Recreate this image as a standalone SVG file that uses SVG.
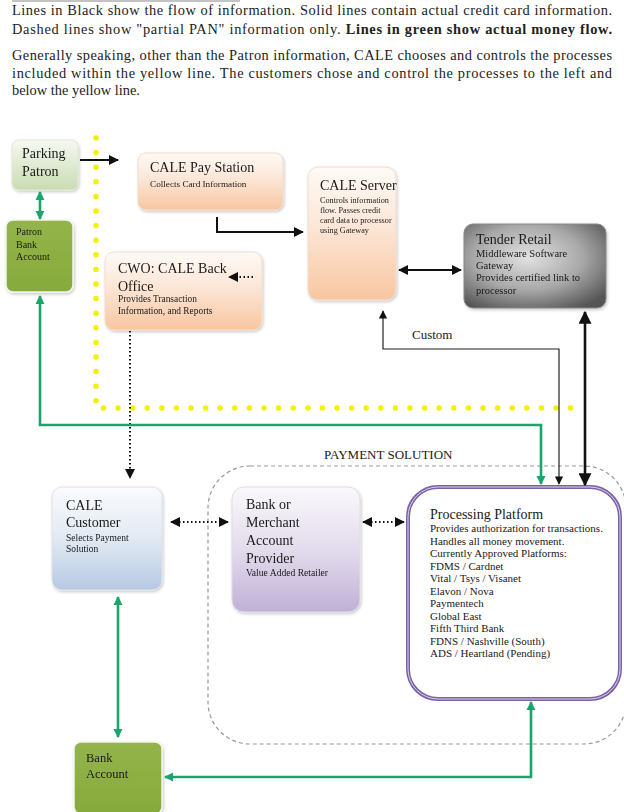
<svg xmlns="http://www.w3.org/2000/svg" width="624" height="812" viewBox="0 0 624 812">
<style>
text{font-family:"Liberation Serif","Times New Roman",serif;fill:#1a1a1a}
.p{font-size:14.4px;fill:#222}
.t{font-size:14px}
.s9{font-size:10.5px}
.pp{font-size:11px}
.blk{fill:none;stroke:#111;stroke-width:2}
.thin{fill:none;stroke:#222;stroke-width:1.2}
.dot{fill:none;stroke:#111;stroke-width:2;stroke-dasharray:1.5 2.5}
.grn{fill:none;stroke:#1aa56a;stroke-width:2.6}
.yel{fill:none;stroke:#f2f200;stroke-width:5.5;stroke-linecap:round;stroke-dasharray:0 14.6}
</style>
<defs>
<marker id="ab" viewBox="0 0 10 10" refX="9" refY="5" markerWidth="5" markerHeight="5" orient="auto-start-reverse" markerUnits="strokeWidth"><path d="M0,0L10,5L0,10z" fill="#111"/></marker>
<marker id="abt" viewBox="0 0 10 10" refX="9" refY="5" markerWidth="7" markerHeight="7" orient="auto-start-reverse" markerUnits="strokeWidth"><path d="M0,0L10,5L0,10z" fill="#111"/></marker>
<marker id="ag" viewBox="0 0 10 10" refX="9" refY="5" markerWidth="3.6" markerHeight="3.6" orient="auto-start-reverse" markerUnits="strokeWidth"><path d="M0,0L10,5L0,10z" fill="#1aa56a"/></marker>
<linearGradient id="gOr" x1="0" y1="0" x2="0" y2="1"><stop offset="0" stop-color="#fefaf6"/><stop offset="0.45" stop-color="#fce6d6"/><stop offset="1" stop-color="#f8c6a0"/></linearGradient>
<linearGradient id="gLg" x1="0" y1="0" x2="0" y2="1"><stop offset="0" stop-color="#f6f9f1"/><stop offset="1" stop-color="#c9dcb2"/></linearGradient>
<linearGradient id="gDg" x1="0" y1="0" x2="0" y2="1"><stop offset="0" stop-color="#93b44a"/><stop offset="1" stop-color="#87aa3c"/></linearGradient>
<linearGradient id="gBl" x1="0" y1="0" x2="0" y2="1"><stop offset="0" stop-color="#fafbfd"/><stop offset="0.5" stop-color="#e2e9f3"/><stop offset="1" stop-color="#b6c9e2"/></linearGradient>
<linearGradient id="gPu" x1="0" y1="0" x2="0" y2="1"><stop offset="0" stop-color="#faf8fb"/><stop offset="0.5" stop-color="#e3dcec"/><stop offset="1" stop-color="#bfb0d6"/></linearGradient>
<radialGradient id="gGr" cx="0.45" cy="0.4" r="0.7"><stop offset="0" stop-color="#e2e2e2"/><stop offset="0.55" stop-color="#a8a8a8"/><stop offset="1" stop-color="#555"/></radialGradient>
<filter id="sh" x="-10%" y="-10%" width="125%" height="125%"><feDropShadow dx="1" dy="1.5" stdDeviation="1.5" flood-color="#000" flood-opacity="0.22"/></filter>
</defs>

<line x1="12" y1="1" x2="240" y2="1" stroke="#888" stroke-width="1.2"/>
<g id="intro">
<text class="p" x="12" y="15" textLength="600" lengthAdjust="spacing">Lines in Black show the flow of information. Solid lines contain actual credit card information.</text>
<text class="p" x="12" y="34" textLength="600" lengthAdjust="spacing">Dashed lines show "partial PAN" information only. <tspan font-weight="bold">Lines in green show actual money flow.</tspan></text>
<text class="p" x="12" y="60" textLength="600" lengthAdjust="spacing">Generally speaking, other than the Patron information, CALE chooses and controls the processes</text>
<text class="p" x="12" y="78" textLength="600" lengthAdjust="spacing">included within the yellow line. The customers chose and control the processes to the left and</text>
<text class="p" x="12" y="95">below the yellow line.</text>
</g>

<g id="yellow-line">
<path class="yel" d="M96,138 V408 H578"/>
</g>

<g id="payment-solution">
<rect x="208" y="466" width="418" height="278" rx="42" fill="none" stroke="#999" stroke-width="1.2" stroke-dasharray="4 3"/>
<text x="324" y="459" font-size="13px">PAYMENT SOLUTION</text>
</g>

<g id="parking-patron" filter="url(#sh)">
<rect x="12" y="140" width="66" height="50" rx="7" fill="url(#gLg)" stroke="#dfe8d3" stroke-width="1"/>
<text class="t" x="22" y="158">Parking</text>
<text class="t" x="22" y="176">Patron</text>
</g>

<g id="patron-bank-account" filter="url(#sh)">
<rect x="6" y="220" width="67" height="72" rx="7" fill="url(#gDg)" stroke="#f2f6ea" stroke-width="1.5"/>
<text x="16" y="235" font-size="10px">Patron</text>
<text x="16" y="248" font-size="10px">Bank</text>
<text x="16" y="260" font-size="10px">Account</text>
</g>

<g id="cale-pay-station" filter="url(#sh)">
<rect x="138" y="153" width="145" height="57" rx="8" fill="url(#gOr)" stroke="#f3dccb" stroke-width="1"/>
<text class="t" x="150" y="172">CALE  Pay Station</text>
<text x="150" y="187" font-size="9.2px">Collects Card Information</text>
</g>

<g id="cale-server" filter="url(#sh)">
<rect x="308" y="167" width="88" height="133" rx="10" fill="url(#gOr)" stroke="#f3dccb" stroke-width="1"/>
<text class="t" x="320" y="190">CALE  Server</text>
<text x="320" y="203" font-size="8.2px">Controls information</text>
<text x="320" y="213" font-size="8.2px">flow. Passes credit</text>
<text x="320" y="223" font-size="8.2px">card data to processor</text>
<text x="320" y="233" font-size="8.2px">using Gateway</text>
</g>

<g id="tender-retail" filter="url(#sh)">
<rect x="464" y="224" width="142" height="84" rx="9" fill="url(#gGr)" stroke="#888" stroke-width="1"/>
<text class="t" x="476" y="244">Tender  Retail</text>
<text class="s9" x="476" y="257">Middleware Software</text>
<text class="s9" x="476" y="269">Gateway</text>
<text class="s9" x="476" y="281">Provides certified link to</text>
<text class="s9" x="476" y="294">processor</text>
</g>

<g id="cwo-back-office" filter="url(#sh)">
<rect x="105" y="252" width="157" height="78" rx="9" fill="url(#gOr)" stroke="#f3dccb" stroke-width="1"/>
<text class="t" x="118" y="273">CWO: CALE Back</text>
<text class="t" x="118" y="291">Office</text>
<text x="118" y="302" font-size="9.4px">Provides Transaction</text>
<text x="118" y="314" font-size="9.4px">Information, and Reports</text>
</g>

<g id="cale-customer" filter="url(#sh)">
<rect x="52" y="487" width="110" height="103" rx="10" fill="url(#gBl)" stroke="#dde3ec" stroke-width="1"/>
<text class="t" x="66" y="510">CALE</text>
<text class="t" x="66" y="527">Customer</text>
<text x="66" y="541" font-size="9.5px">Selects Payment</text>
<text x="66" y="552" font-size="9.5px">Solution</text>
</g>

<g id="bank-merchant" filter="url(#sh)">
<rect x="232" y="487" width="128" height="125" rx="12" fill="url(#gPu)" stroke="#e2dbe9" stroke-width="1"/>
<text class="t" x="246" y="509">Bank  or</text>
<text class="t" x="246" y="527">Merchant</text>
<text class="t" x="246" y="545">Account</text>
<text class="t" x="246" y="563">Provider</text>
<text x="246" y="576" font-size="9.6px">Value Added Retailer</text>
</g>

<g id="processing-platform">
<rect x="408" y="487" width="212" height="212" rx="30" fill="#fff" stroke="#7b62a8" stroke-width="4"/>
<rect x="408" y="487" width="212" height="212" rx="30" fill="none" stroke="#d8cfe8" stroke-width="1"/>
<text class="t" x="430" y="519">Processing  Platform</text>
<text class="pp" x="430" y="532">Provides authorization for transactions.</text>
<text class="pp" x="430" y="544.5">Handles all money movement.</text>
<text class="pp" x="430" y="557">Currently Approved Platforms:</text>
<text class="pp" x="430" y="569.5">FDMS / Cardnet</text>
<text class="pp" x="430" y="582">Vital / Tsys / Visanet</text>
<text class="pp" x="430" y="594.5">Elavon / Nova</text>
<text class="pp" x="430" y="607">Paymentech</text>
<text class="pp" x="430" y="619.5">Global East</text>
<text class="pp" x="430" y="632">Fifth Third Bank</text>
<text class="pp" x="430" y="644.5">FDNS / Nashville (South)</text>
<text class="pp" x="430" y="657">ADS / Heartland (Pending)</text>
</g>

<g id="bank-account" filter="url(#sh)">
<rect x="74" y="742" width="88" height="72" rx="7" fill="url(#gDg)" stroke="#f2f6ea" stroke-width="1.5"/>
<text x="86" y="762" font-size="12.5px">Bank</text>
<text x="86" y="778" font-size="12.5px">Account</text>
</g>

<g id="connectors">
<line class="blk" x1="80" y1="160" x2="118" y2="160" marker-end="url(#ab)"/>
<path class="blk" d="M217,217 V232 H303" marker-end="url(#ab)"/>
<line class="blk" x1="399" y1="270" x2="461" y2="270" marker-start="url(#ab)" marker-end="url(#ab)"/>
<path class="dot" d="M253,277 H229" marker-end="url(#ab)"/>
<path class="dot" d="M130,331 V478" marker-end="url(#ab)"/>
<path class="thin" d="M383,311 V349 H559 V484" marker-start="url(#abt)" marker-end="url(#abt)"/>
<line x1="585" y1="312" x2="585" y2="485" stroke="#111" stroke-width="2.6" marker-start="url(#ab)" marker-end="url(#ab)"/>
<path class="dot" d="M171,522 H228" marker-start="url(#ab)" marker-end="url(#ab)"/>
<path class="dot" d="M363,522 H404" marker-start="url(#ab)" marker-end="url(#ab)"/>
<line class="grn" x1="40" y1="192" x2="40" y2="219" marker-start="url(#ag)" marker-end="url(#ag)"/>
<path class="grn" d="M40,296 V425 H541 V484" marker-start="url(#ag)" marker-end="url(#ag)"/>
<line class="grn" x1="118" y1="597" x2="118" y2="737" marker-start="url(#ag)" marker-end="url(#ag)"/>
<path class="grn" d="M531,702 V777 H165" marker-start="url(#ag)" marker-end="url(#ag)"/>
<text x="412" y="339" font-size="13px">Custom</text>
</g>
</svg>
